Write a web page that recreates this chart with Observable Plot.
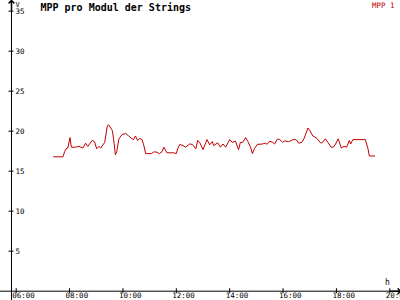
<!DOCTYPE html>
<html><head><meta charset="utf-8">
<script src="https://cdn.jsdelivr.net/npm/d3@7"></script>
<script src="https://cdn.jsdelivr.net/npm/@observablehq/plot@0.6"></script>
<style>body{margin:0;background:#fff} svg{display:block}</style>
</head><body><div id="chart"></div>
<script>
const title = "MPP pro Modul der Strings";
const seriesName = "MPP 1";
const yUnit = "V";
const xUnit = "h";
const xTickHours = [6, 8, 10, 12, 14, 16, 18, 20];
const yTickValues = [5, 10, 15, 20, 25, 30, 35];
const times = ["07:24","07:45","07:49","07:52","07:56","08:01","08:04","08:13","08:21","08:30","08:36","08:41","08:51","08:56","09:01","09:06","09:10","09:19","09:25","09:28","09:36","09:39","09:43","09:46","09:51","09:58","10:06","10:12","10:19","10:24","10:28","10:33","10:38","10:43","10:47","10:51","11:04","11:09","11:15","11:22","11:28","11:32","11:39","11:54","12:00","12:03","12:08","12:15","12:21","12:30","12:36","12:44","12:48","12:53","13:00","13:09","13:15","13:21","13:24","13:33","13:39","13:45","13:51","14:00","14:06","14:13","14:20","14:24","14:29","14:36","14:41","14:47","14:51","14:56","15:02","15:13","15:21","15:24","15:30","15:37","15:41","15:47","15:52","15:59","16:04","16:12","16:17","16:25","16:30","16:35","16:42","16:47","16:50","16:56","17:00","17:07","17:11","17:17","17:24","17:28","17:35","17:41","17:48","17:53","17:58","18:04","18:11","18:17","18:23","18:29","18:32","18:37","19:05","19:11","19:14","19:26"];
const values = [16.8,16.8,17.45,17.8,17.9,19.2,18.0,18.0,18.1,17.9,18.5,18.1,18.85,18.7,17.8,18.1,17.9,18.6,20.7,20.8,20.1,19.05,17.05,17.45,19.05,19.6,19.7,19.45,19.1,18.95,19.4,18.85,19.1,18.95,18.2,17.2,17.2,17.4,17.4,17.2,17.45,18.0,17.3,17.3,17.2,17.8,18.35,18.2,18.0,18.4,18.35,17.8,18.85,18.55,17.7,18.95,18.3,18.7,18.2,18.55,18.0,18.4,18.0,18.95,18.6,18.75,17.7,18.6,18.6,19.2,18.7,18.0,17.2,17.85,18.35,18.4,18.5,18.35,18.75,18.6,18.4,19.0,19.0,18.6,18.8,18.7,18.8,19.0,18.9,18.5,18.6,19.05,19.5,20.4,20.1,19.4,19.3,19.05,18.55,18.55,19.05,18.6,18.0,18.0,18.4,19.05,17.9,18.1,18.0,18.85,18.4,18.95,18.95,17.8,16.9,16.9];

const toHours = s => { const [h, m] = s.split(":").map(Number); return h + m / 60; };
const data = times.map((t, i) => ({h: toHours(t), v: values[i]}));
const fmt = h => String(h).padStart(2, "0") + ":00";

const W = 400, H = 300;
const xDomain = [5.4117, 20.401];
const yDomain = [-1.1625, 36.3375];
const xOrigin = 5.8239;            // where the value axis sits
const hPerPx = (xDomain[1] - xDomain[0]) / W;
const vPerPx = (yDomain[1] - yDomain[0]) / H;
const mono = "DejaVu Sans Mono";
const red = "#c00000";

const svg = Plot.plot({
  width: W, height: H,
  marginLeft: 0, marginRight: 0, marginTop: 0, marginBottom: 0,
  x: {domain: xDomain, axis: null},
  y: {domain: yDomain, axis: null},
  style: {background: "#fff", overflow: "hidden"},
  marks: [
    Plot.ruleY([0], {stroke: "#000", strokeWidth: 1}),
    Plot.ruleX([xOrigin], {stroke: "#000", strokeWidth: 1}),
    Plot.arrow([0], {x1: xOrigin, x2: xOrigin, y1: yDomain[1] - 10 * vPerPx, y2: yDomain[1], stroke: "#000", headLength: 4.5, headAngle: 90}),
    Plot.arrow([0], {x1: xDomain[1] - 10 * hPerPx, x2: xDomain[1], y1: 0, y2: 0, stroke: "#000", headLength: 4.5, headAngle: 90}),
    Plot.ruleX(xTickHours, {x: d => d, y1: -2.5 * vPerPx, y2: 2.5 * vPerPx, stroke: "#000"}),
    Plot.ruleY(yTickValues, {y: d => d, x1: xOrigin - 2.5 * hPerPx, x2: xOrigin + 2.5 * hPerPx, stroke: "#000"}),
    Plot.text(xTickHours, {x: d => d, y: 0, text: fmt, dx: -4, dy: 7, textAnchor: "start", lineAnchor: "bottom", fontFamily: mono, fontSize: 7.5, fill: "#000", ariaLabel: "xticks"}),
    Plot.text(yTickValues, {x: xOrigin, y: d => d, text: d => String(d), dx: 4, textAnchor: "start", lineAnchor: "middle", fontFamily: mono, fontSize: 7.5, fill: "#000", ariaLabel: "yticks"}),
    Plot.text([yUnit], {x: xOrigin, y: yDomain[1], text: d => d, dx: 4, dy: 6.5, textAnchor: "start", lineAnchor: "bottom", fontFamily: mono, fontSize: 7, fill: "#000", ariaLabel: "yunit"}),
    Plot.text([xUnit], {frameAnchor: "bottom-right", text: d => d, dx: -13, dy: -15.5, textAnchor: "middle", lineAnchor: "bottom", fontFamily: mono, fontSize: 8, fill: "#000", ariaLabel: "xunit"}),
    Plot.line(data, {x: "h", y: "v", stroke: red, strokeWidth: 1}),
    Plot.text([title], {frameAnchor: "top-left", text: d => d, dx: 40, dy: 10.5, textAnchor: "start", lineAnchor: "bottom", fontFamily: mono, fontSize: 10, fontWeight: "bold", fill: "#000", ariaLabel: "title"}),
    Plot.text([seriesName], {frameAnchor: "top-right", text: d => d, dx: -6, dy: 7, textAnchor: "end", lineAnchor: "bottom", fontFamily: mono, fontSize: 7.5, fill: red, ariaLabel: "legend"})
  ]
});
const s = d3.select(svg);
s.selectAll('g[aria-label="title"] text').attr("letter-spacing", "0.95px");
s.selectAll('g[aria-label="xticks"] text, g[aria-label="yticks"] text, g[aria-label="legend"] text').attr("letter-spacing", "0.45px");
document.getElementById("chart").appendChild(svg);
</script>
</body></html>
